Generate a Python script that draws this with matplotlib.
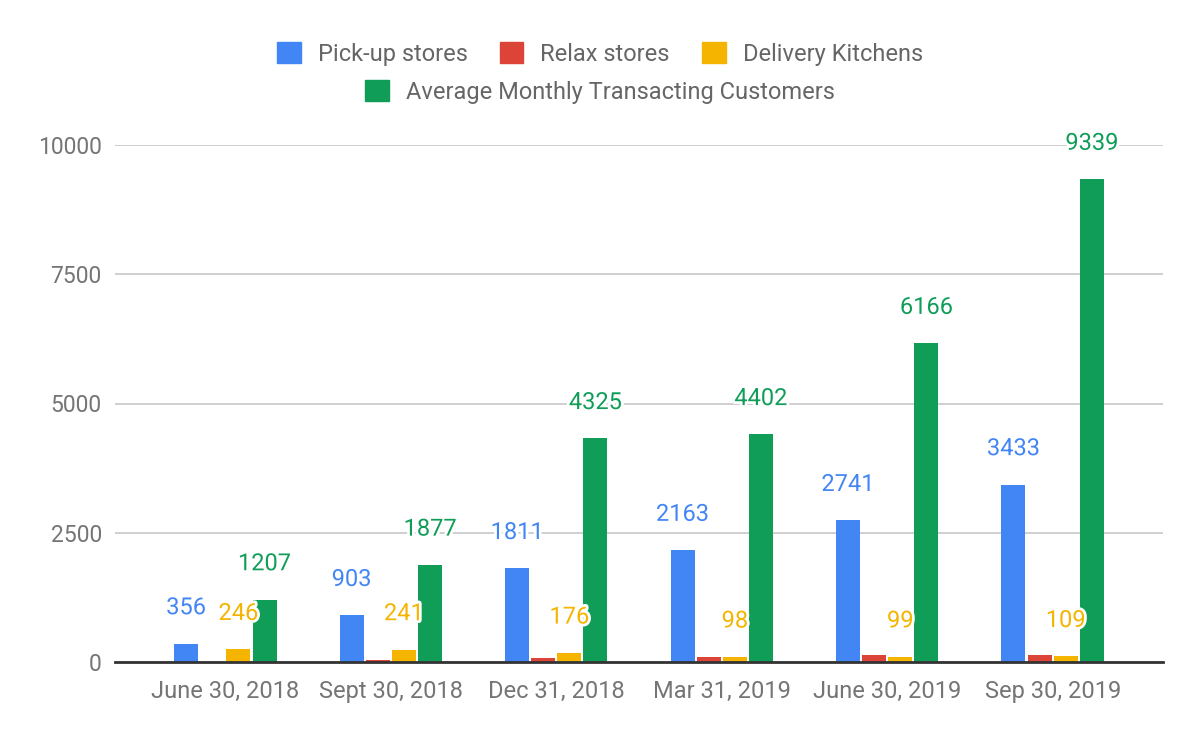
import matplotlib

matplotlib.use("Agg")
import matplotlib.pyplot as plt
import matplotlib.patheffects as pe
import numpy as np
from matplotlib.patches import Patch

plt.rcParams["font.family"] = ["Roboto", "DejaVu Sans"]

quarters = ["June 30, 2018", "Sept 30, 2018", "Dec 31, 2018",
            "Mar 31, 2019", "June 30, 2019", "Sep 30, 2019"]
pickup = [356, 903, 1811, 2163, 2741, 3433]
relax = [0, 40, 85, 90, 130, 135]
delivery = [246, 241, 176, 98, 99, 109]
customers = [1207, 1877, 4325, 4402, 6166, 9339]

series = [
    ("Pick-up stores", pickup, "#4285F4", True),
    ("Relax stores", relax, "#DB4437", False),
    ("Delivery Kitchens", delivery, "#F4B400", True),
    ("Average Monthly Transacting Customers", customers, "#0F9D58", True),
]

fig = plt.figure(figsize=(12, 7.42), dpi=100)
ax = fig.add_axes([115 / 1200, 1 - 662 / 742, 1048 / 1200, 517 / 742])

x = np.arange(len(quarters))
step = 0.158
width = 0.145

for i, (name, values, color, labelled) in enumerate(series):
    pos = x + (i - 1.5) * step
    ax.bar(pos, values, width=width, color=color, zorder=3)
    if not labelled:
        continue
    for px, v in zip(pos, values):
        ax.annotate(
            str(v), (px, v), xytext=(0, 25.8), textcoords="offset points",
            ha="center", va="center", fontsize=17, color=color,
            annotation_clip=False, zorder=5,
            path_effects=[pe.withStroke(linewidth=4, foreground="white")],
        )

ax.set_xlim(-0.667, len(quarters) - 1 + 0.667)
ax.set_ylim(0, 10000)
ax.set_yticks([0, 2500, 5000, 7500, 10000])
ax.set_xticks(x)
ax.set_xticklabels(quarters)
ax.tick_params(axis="both", length=0, labelsize=17, colors="#757575")
ax.tick_params(axis="y", pad=9.5, labelsize=16.5)
ax.tick_params(axis="x", pad=13)
ax.grid(axis="y", color="#cccccc", linewidth=1.3, zorder=0)
for side in ("top", "right", "left"):
    ax.spines[side].set_visible(False)
ax.spines["bottom"].set_color("#333333")
ax.spines["bottom"].set_linewidth(2)
ax.spines["bottom"].set_zorder(4)

handles = [Patch(facecolor=c, edgecolor=c, label=n) for n, _, c, _ in series]
fig.legend(handles=handles[:3], loc="center", bbox_to_anchor=(0.5, 1 - 54 / 742),
           ncol=3, frameon=False, fontsize=17, labelcolor="#666666",
           handlelength=1.0, handleheight=1.0, handletextpad=0.72, columnspacing=1.36)
fig.legend(handles=handles[3:], loc="center", bbox_to_anchor=(0.5, 1 - 92 / 742),
           frameon=False, fontsize=17, labelcolor="#666666",
           handlelength=1.0, handleheight=1.0, handletextpad=0.72)

fig.savefig("out.png", dpi=100)
plt.close(fig)
